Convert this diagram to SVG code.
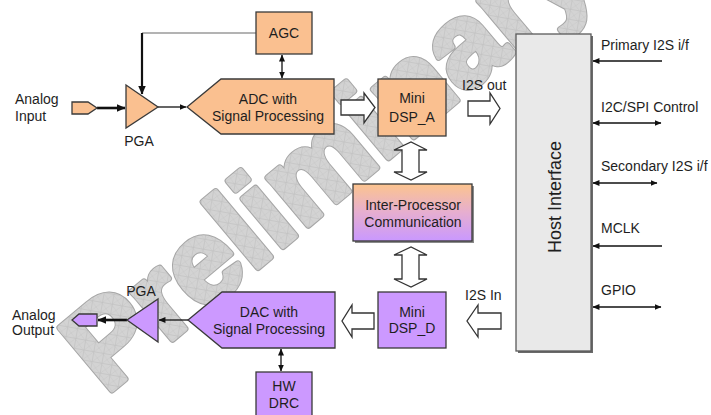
<svg xmlns="http://www.w3.org/2000/svg" width="711" height="415" viewBox="0 0 711 415">
<defs>
<style>
text{font-family:"Liberation Sans",Arial,sans-serif;font-size:14px;fill:#1e1e1e}
.c{text-anchor:middle}
.box{stroke:#3a3a3a;stroke-width:1.3}
.org{fill:#fac090}
.pur{fill:#cc99ff}
.ln{stroke:#111;stroke-width:1.3;fill:none}
.thk{stroke:#111;stroke-width:2.6;fill:none}
.blk{fill:#fff;stroke:#333;stroke-width:1.3;stroke-linejoin:miter}
</style>
<marker id="ah" viewBox="0 0 8 7" refX="7.5" refY="3.5" markerWidth="7" markerHeight="6" markerUnits="userSpaceOnUse" orient="auto-start-reverse"><path d="M0,0 L8,3.5 L0,7 z" fill="#111"/></marker>
<marker id="ahb" viewBox="0 0 8 7" refX="7.5" refY="3.5" markerWidth="9" markerHeight="8" markerUnits="userSpaceOnUse" orient="auto-start-reverse"><path d="M0,0 L8,3.5 L0,7 z" fill="#111"/></marker>
<linearGradient id="ipc" x1="0" y1="0" x2="0" y2="1"><stop offset="0" stop-color="#fcc48e"/><stop offset="0.5" stop-color="#e6aed0"/><stop offset="1" stop-color="#c998ff"/></linearGradient>
<pattern id="hatch" patternUnits="userSpaceOnUse" width="10" height="10" patternTransform="rotate(-40)">
<rect width="10" height="10" fill="#d3d3d3"/>
<path d="M0,0 H10 M0,0 V10" stroke="#b4b4b4" stroke-width="0.8"/>
<path d="M0,0 L10,10 M10,0 L0,10" stroke="#c4c4c4" stroke-width="0.5"/>
</pattern>
</defs>
<rect width="711" height="415" fill="#fff"/>

<g id="watermark">
<text x="0" y="0" transform="translate(106,395) rotate(-40)" style="font-size:118px;font-weight:bold;fill:none;stroke:#a6a6a6;stroke-width:7;stroke-linejoin:round">Preliminary</text>
<text x="0" y="0" transform="translate(106,395) rotate(-40)" style="font-size:118px;font-weight:bold;fill:url(#hatch);stroke:url(#hatch);stroke-width:5;stroke-linejoin:round">Preliminary</text>
</g>

<g id="connectors">
<line class="thk" x1="97" y1="108" x2="125" y2="108" marker-end="url(#ahb)"/>
<line class="ln" x1="158" y1="107" x2="186" y2="107" marker-end="url(#ah)"/>
<line x1="256" y1="33" x2="142" y2="33" stroke="#9a9a9a" stroke-width="1.5"/>
<line x1="142" y1="33" x2="142" y2="94" stroke="#111" stroke-width="2.2" marker-end="url(#ahb)"/>
<line class="ln" x1="282" y1="55" x2="282" y2="78" marker-start="url(#ah)" marker-end="url(#ah)"/>
<line class="ln" x1="188" y1="320" x2="159" y2="320" marker-end="url(#ah)"/>
<line class="thk" x1="127" y1="320" x2="98" y2="320" marker-end="url(#ahb)"/>
<line class="ln" x1="281" y1="349" x2="281" y2="371" marker-start="url(#ah)" marker-end="url(#ah)"/>
<line class="ln" x1="662" y1="61" x2="593" y2="61" marker-end="url(#ah)"/>
<line class="ln" x1="593" y1="123" x2="661" y2="123" marker-start="url(#ah)" marker-end="url(#ah)"/>
<line class="ln" x1="593" y1="183" x2="657" y2="183" marker-start="url(#ah)" marker-end="url(#ah)"/>
<line class="ln" x1="662" y1="246" x2="593" y2="246" marker-end="url(#ah)"/>
<line class="ln" x1="593" y1="307" x2="661" y2="307" marker-start="url(#ah)" marker-end="url(#ah)"/>
<path class="blk" d="M341,100 H364 V93 L375,107.5 L364,123 V115 H341 Z"/>
<path class="blk" d="M468,101 H490 V93 L500,108.5 L490,124 V116 H468 Z"/>
<path class="blk" d="M402,150 H394 L411,142 L427,150 H419 V172 H427 L411,180 L394,172 H402 Z"/>
<path class="blk" d="M402,255 H394 L411,247 L427,255 H419 V279 H427 L411,287 L394,279 H402 Z"/>
<path class="blk" d="M374,313 H352 V305 L342,321 L352,337 V329 H374 Z"/>
<path class="blk" d="M501,313 H478 V305 L467,321 L478,337 V329 H501 Z"/>
</g>

<g id="analog-input">
<path class="box org" d="M72,102 H88 L97,108 L88,114 H72 Z"/>
<text x="15" y="104">Analog</text>
<text x="15" y="121">Input</text>
</g>

<g id="pga-in">
<path class="box org" d="M126,85 L158,107 L126,128 Z"/>
<text class="c" x="139" y="146">PGA</text>
</g>

<g id="agc">
<rect class="box org" x="256" y="12" width="56" height="42"/>
<text class="c" x="284" y="38">AGC</text>
</g>

<g id="adc">
<path class="box org" d="M187,107 L221,79 H334 V134 H221 Z"/>
<text class="c" x="268" y="104">ADC with</text>
<text class="c" x="268" y="121">Signal Processing</text>
</g>

<g id="dsp-a">
<rect class="box org" x="378" y="79" width="68" height="57"/>
<text class="c" x="412" y="103">Mini</text>
<text class="c" x="412" y="122">DSP_A</text>
</g>

<g id="i2s-out">
<text x="462" y="90">I2S out</text>
</g>

<g id="ipc">
<rect x="355" y="186" width="119" height="57" fill="#8a8a8a"/>
<rect class="box" x="353" y="184" width="119" height="57" fill="url(#ipc)"/>
<text class="c" x="413" y="210">Inter-Processor</text>
<text class="c" x="413" y="227">Communication</text>
</g>

<g id="host">
<rect x="518" y="36" width="75" height="317" fill="#6a6a6a"/>
<rect x="516" y="34" width="75" height="317" fill="#e9e9e9" stroke="#5a5a5a" stroke-width="1.3"/>
<text class="c" transform="translate(561,197) rotate(-90)" style="font-size:18px">Host Interface</text>
</g>

<g id="host-signals">
<text x="601" y="50">Primary I2S i/f</text>
<text x="601" y="112">I2C/SPI Control</text>
<text x="601" y="171">Secondary I2S i/f</text>
<text x="601" y="233">MCLK</text>
<text x="601" y="295">GPIO</text>
</g>

<g id="dsp-d">
<rect class="box pur" x="378" y="292" width="68" height="56"/>
<text class="c" x="412" y="317">Mini</text>
<text class="c" x="412" y="333">DSP_D</text>
</g>

<g id="i2s-in">
<text x="465" y="300">I2S In</text>
</g>

<g id="dac">
<path class="box pur" d="M188,320 L222,292 H335 V348 H222 Z"/>
<text class="c" x="269" y="317">DAC with</text>
<text class="c" x="269" y="334">Signal Processing</text>
</g>

<g id="hw-drc">
<rect class="box pur" x="256" y="372" width="56" height="50"/>
<text class="c" x="284" y="391">HW</text>
<text class="c" x="284" y="408">DRC</text>
</g>

<g id="pga-out">
<path class="box pur" d="M158,299 L158,342 L127,320 Z"/>
<text class="c" x="141" y="296">PGA</text>
</g>

<g id="analog-output">
<path class="box pur" d="M72,320 L79,314 H97 V326 H79 Z"/>
<text x="12" y="320">Analog</text>
<text x="12" y="335">Output</text>
</g>
</svg>
